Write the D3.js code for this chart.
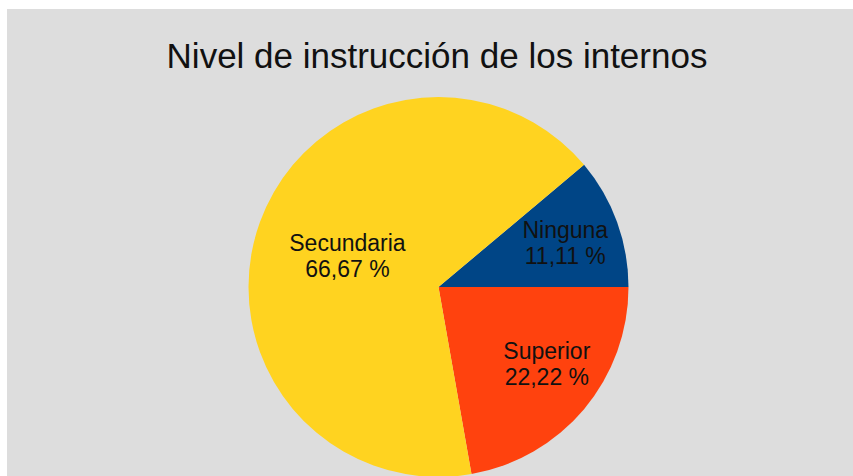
<!DOCTYPE html>
<html><head><meta charset="utf-8">
<script src="https://cdn.jsdelivr.net/npm/d3@7"></script>
<style>html,body{margin:0;padding:0;background:#fff;overflow:hidden}</style>
</head><body>
<svg id="c" width="853" height="476"></svg>
<script>
const title = "Nivel de instrucción de los internos";
const categories = ["Ninguna", "Superior", "Secundaria"];
const values = [1, 2, 6];
const percentLabels = ["11,11 %", "22,22 %", "66,67 %"];
const colors = ["#004586", "#ff420e", "#ffd320"];

const W = 853, H = 476;
const svg = d3.select("#c");
svg.append("rect").attr("x", 7).attr("y", 9).attr("width", W - 7).attr("height", H - 9).attr("fill", "#dddddd");

svg.append("text").attr("x", 437).attr("y", 68).attr("text-anchor", "middle")
  .attr("font-family", "Liberation Sans, Arial, sans-serif").attr("font-size", 35).attr("fill", "#111")
  .text(title);

const cx = 438.5, cy = 287, R = 190;
const total = d3.sum(values);
const pie = d3.pie().sort(null).value(d => d.v).startAngle(50 * Math.PI / 180).endAngle(50 * Math.PI / 180 + 2 * Math.PI);
const data = categories.map((c, i) => ({c, v: values[i], p: percentLabels[i], col: colors[i]}));
const arcs = pie(data);
const arc = d3.arc().innerRadius(0).outerRadius(R);
const g = svg.append("g").attr("transform", `translate(${cx},${cy})`);
g.selectAll("path").data(arcs).enter().append("path").attr("d", arc).attr("fill", d => d.data.col);

// label placement: mid-angle centroid, nudged toward the upper side in the lower half
const lbl = g.selectAll("text.l").data(arcs).enter().append("text").attr("class", "l")
  .attr("text-anchor", "middle").attr("font-family", "Liberation Sans, Arial, sans-serif")
  .attr("font-size", 23).attr("fill", "#111")
  .attr("transform", d => {
    const f = d.data.v / total > 0.5 ? 0.51 : 0.71;
    const r = R * f;
    const la = d3.arc().innerRadius(r).outerRadius(r);
    let [x, y] = la.centroid(d);
    if (y > 0) { x += 5; y -= 12; }
    return `translate(${x},${y})`;
  });
lbl.append("tspan").attr("x", 0).attr("y", -3).text(d => d.data.c);
lbl.append("tspan").attr("x", 0).attr("y", 23).text(d => d.data.p);
</script>
</body></html>
